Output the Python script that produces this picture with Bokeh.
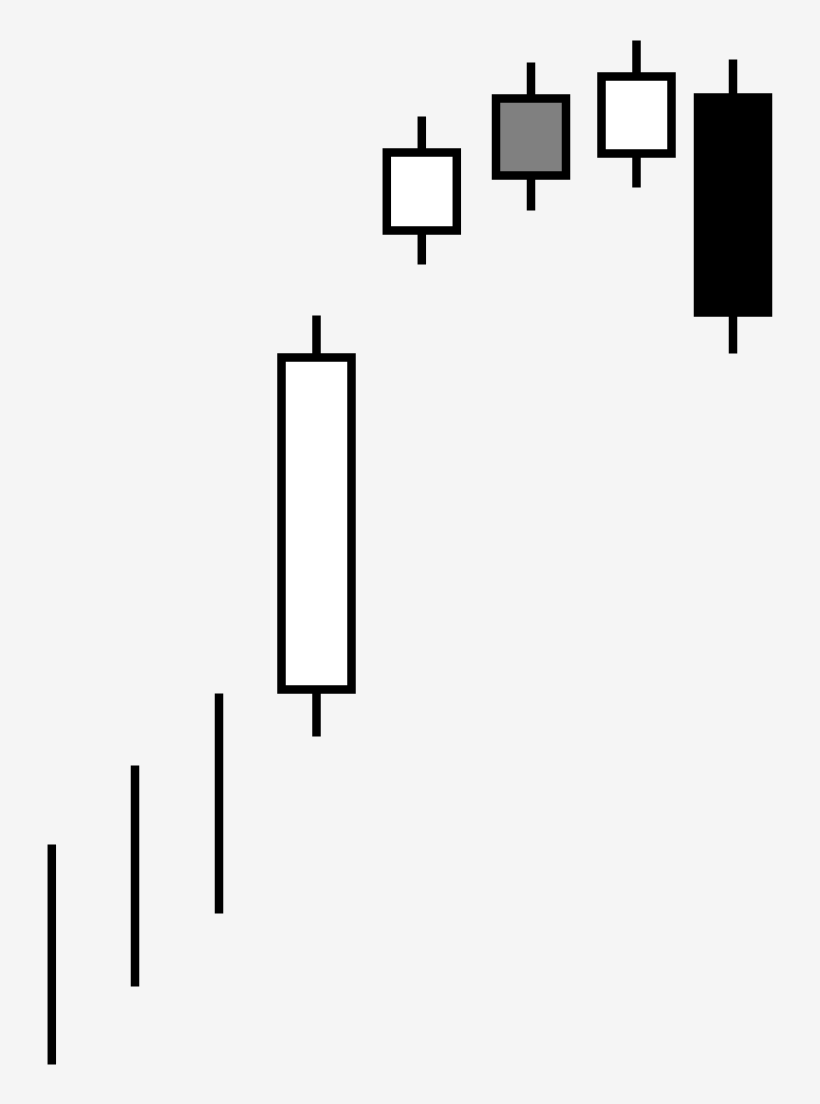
from bokeh.plotting import figure
from bokeh.models import Range1d, ColumnDataSource
from bokeh.embed import file_html
from bokeh.resources import INLINE

# ---- data (price units) ----
days   = [5.13, 13.45, 21.85, 31.6, 42.13, 53.05, 63.6, 73.25]
highs  = [26.0, 33.9, 41.1, 78.9, 98.8, 104.2, 106.4, 104.5]
lows   = [4.0, 11.8, 19.1, 36.8, 84.0, 89.4, 91.7, 75.1]
# candles with a body (the first three are only high-low lines)
body_days   = [31.6, 42.13, 53.05, 63.6, 73.25]
body_open   = [41.5, 87.4, 100.6, 95.1, 100.7]
body_close  = [74.7, 95.2, 92.9, 102.8, 79.2]
body_colors = ["#ffffff", "#ffffff", "#808080", "#ffffff", "#000000"]
BODY_WIDTH = 7.0
BG = "#f5f5f5"

p = figure(width=804, height=1088, output_backend="svg", toolbar_location=None,
           x_range=Range1d(0.0, 80.4), y_range=Range1d(1.6, 110.4),
           x_axis_type=None, y_axis_type=None, min_border=0)
p.background_fill_color = BG
p.border_fill_color = BG
p.outline_line_color = None
p.grid.visible = False

wicks = ColumnDataSource(dict(x=days, hi=highs, lo=lows))
p.segment(x0="x", y0="lo", x1="x", y1="hi", source=wicks,
          line_color="black", line_width=8.5, line_cap="butt")

bodies = ColumnDataSource(dict(
    left=[d - BODY_WIDTH / 2 for d in body_days],
    right=[d + BODY_WIDTH / 2 for d in body_days],
    top=[max(o, c) for o, c in zip(body_open, body_close)],
    bottom=[min(o, c) for o, c in zip(body_open, body_close)],
    color=body_colors,
))
p.quad(left="left", right="right", top="top", bottom="bottom", source=bodies,
       fill_color="color", line_color="black", line_width=8.5, line_join="miter")

html = file_html(p, INLINE)
i = html.rfind("<body")
if i >= 0:
    html = html[:i] + '<body style="background:%s"' % BG + html[i + len("<body"):]
open("out.html", "w").write(html)
